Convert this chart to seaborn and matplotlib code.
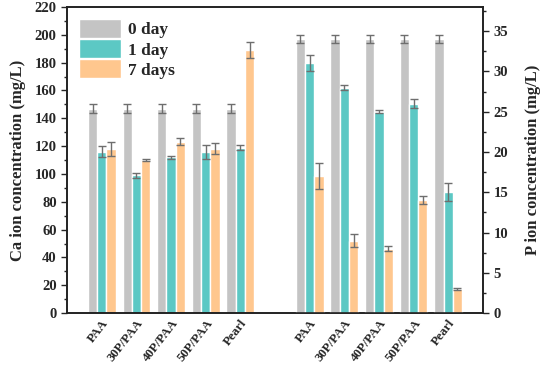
import matplotlib
matplotlib.use("Agg")
import matplotlib.pyplot as plt
from matplotlib.ticker import MultipleLocator
import pandas as pd
import seaborn as sns

samples = ["PAA", "30P/PAA", "40P/PAA", "50P/PAA", "Pearl"]
days = ["0 day", "1 day", "7 days"]

ca_0 = [147, 147, 147, 147, 147]
ca_1 = [116, 99, 112, 116, 119]
ca_7 = [118, 110, 123, 118, 189]
ca_0_err = [3, 3, 3, 3, 3]
ca_1_err = [4, 2, 1, 5, 2]
ca_7_err = [5, 1, 2.5, 4, 6]

p_0 = [34, 34, 34, 34, 34]
p_1 = [31, 28, 25, 26, 15]
p_7 = [17, 9, 8, 14, 3]
p_0_err = [0.5, 0.5, 0.5, 0.5, 0.5]
p_1_err = [1.0, 0.3, 0.2, 0.6, 1.1]
p_7_err = [1.6, 0.8, 0.3, 0.5, 0.1]

ca_pos = [1, 2, 3, 4, 5]
p_pos = [7, 8, 9, 10, 11]

colors = ["#c4c4c4", "#5cc8c4", "#ffc78e"]

sns.set_style("ticks")
plt.rcParams["font.family"] = ["Liberation Serif", "DejaVu Serif"]
plt.rcParams["font.weight"] = "bold"


def make_df(pos, vals, errs):
    rows = []
    for d, v, e in zip(days, vals, errs):
        for x, val, err in zip(pos, v, e):
            rows.append({"pos": x, "day": d, "value": val, "err": err})
    return pd.DataFrame(rows)


ca_df = make_df(ca_pos, [ca_0, ca_1, ca_7], [ca_0_err, ca_1_err, ca_7_err])
p_df = make_df(p_pos, [p_0, p_1, p_7], [p_0_err, p_1_err, p_7_err])

fig = plt.figure(figsize=(5.5, 3.65), dpi=100)
ax = fig.add_axes([0.122, 0.142, 0.756, 0.839])
ax2 = ax.twinx()


def draw(axis, df):
    sns.barplot(data=df, x="pos", y="value", hue="day", hue_order=days,
                palette=colors, native_scale=True, width=0.8, errorbar=None,
                ax=axis, legend=(axis is ax), saturation=1)
    bars = axis.patches[:len(df)]
    for bar, (_, row) in zip(bars, df.iterrows()):
        cx = bar.get_x() + bar.get_width() / 2
        axis.errorbar(cx, row["value"], yerr=row["err"], color="#6e6e6e",
                      elinewidth=1, capsize=3, capthick=1)


draw(ax, ca_df)
draw(ax2, p_df)

ax.set_xlim(0, 12)
ax.set_ylim(0, 220)
ax2.set_ylim(0, 38)
ax.yaxis.set_major_locator(MultipleLocator(20))
ax.yaxis.set_minor_locator(MultipleLocator(10))
ax2.yaxis.set_major_locator(MultipleLocator(5))
ax2.yaxis.set_minor_locator(MultipleLocator(2.5))

ax.set_xticks(ca_pos + p_pos)
ax.set_xticklabels(samples + samples, rotation=52, ha="right",
                   rotation_mode="anchor", fontsize=9.3, fontweight="bold")
ax.tick_params(axis="x", length=0, pad=3)
ax.tick_params(axis="y", labelsize=10.5, length=4, width=1)
ax.tick_params(axis="y", which="minor", length=2.5, width=1)
ax2.tick_params(axis="y", labelsize=10.5, length=4, width=1)
ax2.tick_params(axis="y", which="minor", length=2.5, width=1)
for lbl in ax.get_yticklabels() + ax2.get_yticklabels():
    lbl.set_fontweight("bold")

ax.set_xlabel("")
ax.set_ylabel("Ca ion concentration (mg/L)", fontsize=12, fontweight="bold",
              labelpad=6)
ax2.set_ylabel("P ion concentration (mg/L)", fontsize=12, fontweight="bold",
               labelpad=12)

for a in (ax, ax2):
    for s in a.spines.values():
        s.set_visible(True)
        s.set_linewidth(1.2)
        s.set_color("#222222")

leg = ax.legend(loc="upper left", frameon=False, fontsize=12.5,
                handlelength=2.4, handleheight=1.3, labelspacing=0.05,
                borderaxespad=0.3, borderpad=0.4, handletextpad=0.4)
for t in leg.get_texts():
    t.set_fontweight("bold")

fig.savefig("out.png", dpi=100)
